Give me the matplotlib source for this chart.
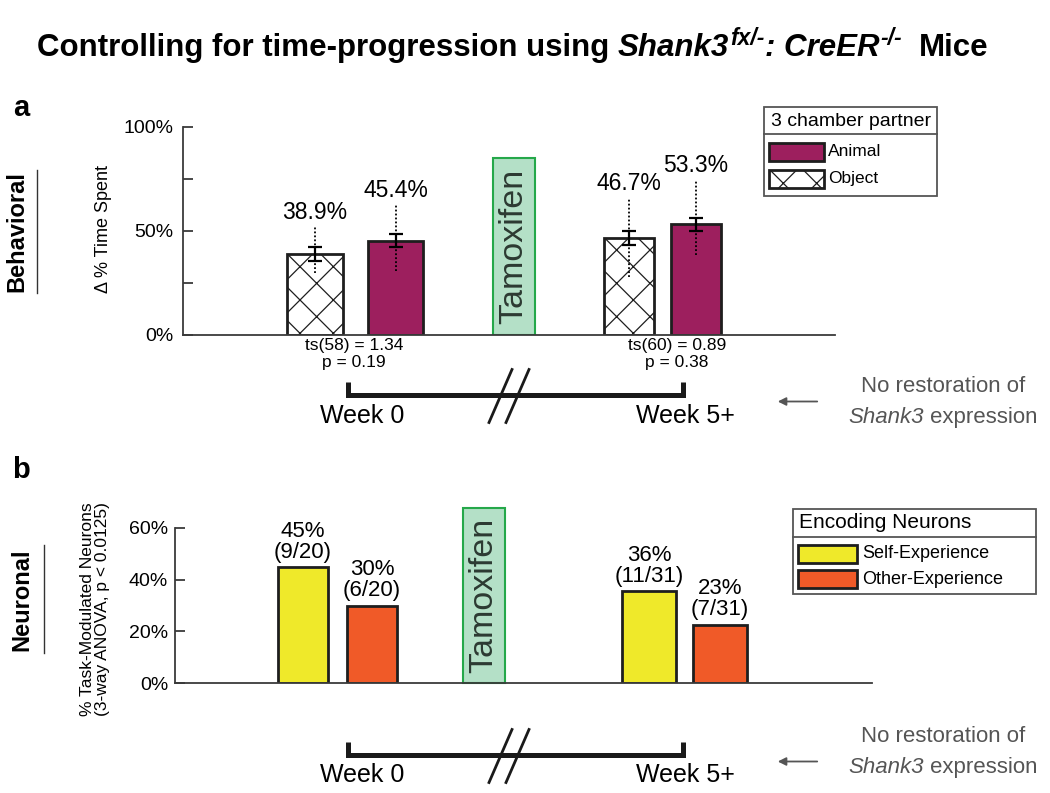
import matplotlib
matplotlib.use("Agg")
import matplotlib.pyplot as plt
from matplotlib.patches import Rectangle

W, H = 1050, 793

# panel a: 3 chamber test, before / after tamoxifen
a_partner = ["Object", "Animal", "Object", "Animal"]
a_time = [38.9, 45.4, 46.7, 53.3]      # mean delta % time spent
a_sem = [3.5, 3.1, 3.4, 3.1]
a_low = [30.0, 31.0, 28.0, 38.5]       # dotted spread of individual values
a_high = [52.0, 62.5, 66.0, 74.5]
a_stats = ["ts(58) = 1.34\np = 0.19", "ts(60) = 0.89\np = 0.38"]

# panel b: encoding neurons
b_type = ["Self-Experience", "Other-Experience", "Self-Experience", "Other-Experience"]
b_count = [9, 6, 11, 7]
b_total = [20, 20, 31, 31]
b_pct_label = [45, 30, 36, 23]

weeks = ["Week 0", "Week 5+"]

ANIMAL = "#9d1f5e"
ENC_COL = {"Self-Experience": "#efe92a", "Other-Experience": "#f05a28"}
EDGE = "#1e1e1e"
TAM_FILL, TAM_EDGE, TAM_TXT = "#b4e0c7", "#25a84a", "#2c3a32"
AXC = "#3a3a3a"
GRAY = "#555555"

plt.rcParams.update({
    "font.family": ["Liberation Sans", "DejaVu Sans"],
    "hatch.linewidth": 0.9,
})

fig = plt.figure(figsize=(W / 100, H / 100), dpi=100)


def style_axes(ax, ticks, labels, pad):
    ax.set_facecolor("none")
    for s in ["top", "right"]:
        ax.spines[s].set_visible(False)
    for s in ["left", "bottom"]:
        ax.spines[s].set_color(AXC)
        ax.spines[s].set_linewidth(1.3)
    ax.set_xticks([])
    ax.set_yticks(ticks)
    ax.set_yticklabels(labels, fontsize=14)
    ax.tick_params(axis="y", direction="in", length=7, width=1.3, color=AXC, pad=pad)


# ---- panel a ----
ax_a = fig.add_axes([183 / W, 1 - 335 / H, 652 / W, 208 / H])
ax_a.set_xlim(0, 652)
ax_a.set_ylim(0, 100)
a_x = [132, 212.5, 446, 513]
a_w = [56, 55, 50, 50]
for x, w, p, v, s, lo, hi in zip(a_x, a_w, a_partner, a_time, a_sem, a_low, a_high):
    if p == "Animal":
        ax_a.bar(x, v, w, color=ANIMAL, edgecolor=EDGE, lw=2, zorder=2)
    else:
        ax_a.bar(x, v, w, color="white", edgecolor=EDGE, hatch="x", lw=2, zorder=2)
    ax_a.vlines(x, lo, hi, colors="k", linestyles=(0, (1, 1.2)), lw=1.3, zorder=3)
    ax_a.errorbar(x, v, yerr=s, fmt="none", ecolor="k", elinewidth=1.6,
                  capsize=5, capthick=1.6, zorder=4)
    ax_a.annotate(f"{v:.1f}%", (x, hi), xytext=(0, 2), textcoords="offset points",
                  ha="center", va="bottom", fontsize=16.5)

ax_a.bar(331, 85, 42, color=TAM_FILL, edgecolor=TAM_EDGE, lw=1.5, zorder=2)
ax_a.text(331, 42.5, "Tamoxifen", rotation=90, ha="center", va="center",
          fontsize=24.5, color=TAM_TXT, zorder=3)
style_axes(ax_a, [0, 25, 50, 75, 100], ["0%", "", "50%", "", "100%"], 7)

# ---- panel b ----
ax_b = fig.add_axes([175 / W, 1 - 683 / H, 697 / W, 155 / H])
ax_b.set_xlim(0, 697)
ax_b.set_ylim(0, 60)
b_x = [128, 197, 474, 545]
b_w = [50, 50, 54, 54]
for x, w, t, n, tot, lab in zip(b_x, b_w, b_type, b_count, b_total, b_pct_label):
    v = 100 * n / tot
    ax_b.bar(x, v, w, color=ENC_COL[t], edgecolor=EDGE, lw=2, zorder=2)
    ax_b.annotate(f"{lab}%\n({n}/{tot})", (x, v), xytext=(0, 3), textcoords="offset points",
                  ha="center", va="bottom", fontsize=16, linespacing=1.0)

ax_b.bar(309, 67.7, 42, color=TAM_FILL, edgecolor=TAM_EDGE, lw=1.5, zorder=2, clip_on=False)
ax_b.text(309, 33.8, "Tamoxifen", rotation=90, ha="center", va="center",
          fontsize=24.5, color=TAM_TXT, zorder=3)
style_axes(ax_b, [0, 20, 40, 60], ["0%", "20%", "40%", "60%"], 5)

# ---- overlay in pixel coordinates for annotations ----
ov = fig.add_axes([0, 0, 1, 1], zorder=5)
ov.set_xlim(0, W)
ov.set_ylim(H, 0)
ov.axis("off")
renderer = fig.canvas.get_renderer()


def draw_pieces(pieces, cx, base, **kw):
    # pieces: (text, size, style, weight, rise_px, gap_after_px), centred on cx
    placed, x = [], 0.0
    for txt, size, style, weight, rise, gap in pieces:
        t = ov.text(0, base - rise, txt, fontsize=size, fontstyle=style, fontweight=weight,
                    ha="left", va="baseline", **kw)
        placed.append((t, x))
        x += t.get_window_extent(renderer).width + gap
    x -= pieces[-1][5]
    for t, xo in placed:
        t.set_x(cx - x / 2 + xo)


sp = 0.278 * 22.5 * 100 / 72
draw_pieces([
    ("Controlling for time-progression using", 22.5, "normal", "bold", 0, sp),
    ("Shank3", 22.5, "italic", "bold", 0, 1),
    ("fx/-", 16.5, "italic", "bold", 11, 0),
    (": CreER", 22.5, "italic", "bold", 0, 1),
    ("-/-", 16.5, "italic", "bold", 11, 2 * sp),
    ("Mice", 22.5, "normal", "bold", 0, 0),
], 513, 56)

ov.text(21, 108, "a", fontsize=21, fontweight="bold", ha="center", va="center")
ov.text(21, 470, "b", fontsize=21, fontweight="bold", ha="center", va="center")
ov.text(17, 232, "Behavioral", rotation=90, fontsize=17, fontweight="bold", ha="center", va="center")
ov.plot([37, 37], [170, 293], color="#333", lw=1)
ov.text(22, 600, "Neuronal", rotation=90, fontsize=17, fontweight="bold", ha="center", va="center")
ov.plot([44, 44], [545, 653], color="#333", lw=1)

ov.text(103, 229, "Δ % Time Spent", rotation=90, fontsize=13, ha="center", va="center")
ov.text(95, 609, "% Task-Modulated Neurons\n(3-way ANOVA, p < 0.0125)", rotation=90,
        fontsize=12.5, ha="center", va="center", linespacing=0.95)

for cx, txt in zip([354, 677], a_stats):
    ov.text(cx, 354, txt, fontsize=12.5, ha="center", va="center", linespacing=1.12)

# brackets, week labels, arrows (panel a row then panel b row)
sp16 = 0.278 * 16 * 100 / 72
for yb, yw, yr in [(394.5, 416, 387), (754.5, 775, 737)]:
    ov.plot([348, 348, 683, 683], [yb - 12.5, yb, yb, yb - 12.5], color="#1a1a1a",
            lw=3.6, solid_joinstyle="miter", solid_capstyle="butt")
    ov.plot([489, 512], [yb + 28, yb - 25], color="#1a1a1a", lw=2)
    ov.plot([506, 529], [yb + 28, yb - 25], color="#1a1a1a", lw=2)
    ov.text(362, yw, weeks[0], fontsize=18, ha="center", va="center")
    ov.text(685, yw, weeks[1], fontsize=18, ha="center", va="center")
    ov.annotate("", xy=(775, yb + 7), xytext=(820, yb + 7),
                arrowprops=dict(arrowstyle="-|>", color=GRAY, lw=1.3, mutation_scale=12))
    ov.text(943, yr, "No restoration of", fontsize=16, color=GRAY, ha="center", va="center")
    draw_pieces([("Shank3", 16, "italic", "normal", 0, sp16),
                 ("expression", 16, "normal", "normal", 0, 0)],
                943, yr + 36, color=GRAY)

# legend a
ov.add_patch(Rectangle((764, 107), 173, 89, fill=False, ec=GRAY, lw=1.3))
ov.plot([764, 937], [134, 134], color=GRAY, lw=1.3)
ov.text(771, 121, "3 chamber partner", fontsize=14, ha="left", va="center")
for i, p in enumerate(["Animal", "Object"]):
    y0 = 143 + 27 * i
    if p == "Animal":
        ov.add_patch(Rectangle((769, y0), 55, 18, fc=ANIMAL, ec=EDGE, lw=2))
    else:
        ov.add_patch(Rectangle((769, y0), 55, 18, fc="white", ec=EDGE, lw=2, hatch="x"))
    ov.text(828, y0 + 9, p, fontsize=12.5, ha="left", va="center")

# legend b
ov.add_patch(Rectangle((793, 509), 243, 85, fill=False, ec=GRAY, lw=1.3))
ov.plot([793, 1036], [537, 537], color=GRAY, lw=1.3)
ov.text(799, 523, "Encoding Neurons", fontsize=15, ha="left", va="center")
for i, t in enumerate(["Self-Experience", "Other-Experience"]):
    y0 = 545 + 25 * i
    ov.add_patch(Rectangle((798, y0), 59, 18, fc=ENC_COL[t], ec=EDGE, lw=2))
    ov.text(862, y0 + 9, t, fontsize=13, ha="left", va="center")

fig.savefig("out.png", dpi=100)
